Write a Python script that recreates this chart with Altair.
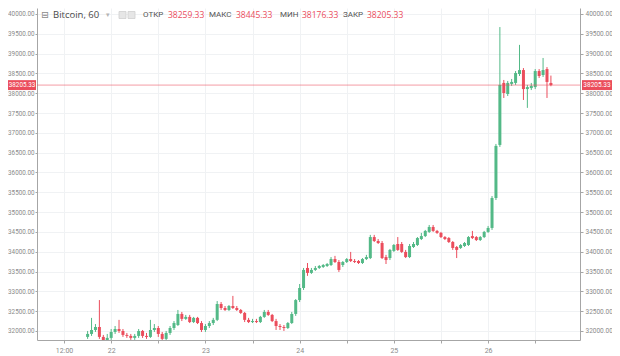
import altair as alt
import pandas as pd

# ---------------- data (hourly BTC candles) ----------------
first_bar = "2021-07-21 18:00"

opens = [31850, 31925, 32025, 32100, 31850, 31750, 31825, 31975, 32050, 32000,
         31900, 31875, 31825, 31875, 32000, 31875, 31850, 32025, 32075, 31925,
         31800, 31950, 32075, 32150, 32430, 32305, 32355, 32225, 32330, 32200,
         32025, 32125, 32200, 32280, 32680, 32580, 32530, 32630, 32580, 32530,
         32455, 32280, 32225, 32250, 32225, 32355, 32480, 32405, 32250, 32125,
         32100, 32075, 32200, 32430, 32780, 33085, 33590, 33465, 33540, 33590,
         33615, 33640, 33665, 33815, 33740, 33665, 33740, 33815, 33765, 33765,
         33715, 33815, 33840, 34370, 34270, 34220, 33865, 33840, 34020, 34195,
         34195, 33995, 33865, 34120, 34170, 34320, 34395, 34500, 34625, 34525,
         34475, 34370, 34345, 34245, 34120, 34095, 34145, 34170, 34395, 34370,
         34295, 34370, 34500, 34600, 35355, 36695, 38260, 37980, 38235, 38260,
         38485, 38585, 38105, 38130, 38155, 38560, 38460, 38610, 38259.33]

highs = [32000, 32330, 32175, 32780, 31900, 31925, 32050, 32125, 32280, 32050,
         31950, 31925, 31925, 32050, 32025, 31950, 32280, 32175, 32125, 31975,
         32000, 32125, 32250, 32530, 32480, 32405, 32405, 32355, 32355, 32250,
         32175, 32250, 32330, 32755, 32730, 32630, 32655, 32885, 32630, 32555,
         32480, 32330, 32305, 32305, 32380, 32530, 32530, 32430, 32305, 32175,
         32150, 32225, 32480, 32805, 33185, 33590, 33715, 33590, 33640, 33665,
         33690, 33715, 33865, 33895, 33790, 33765, 33840, 33995, 33815, 33790,
         33840, 33920, 34425, 34425, 34320, 34270, 33920, 34070, 34195, 34370,
         34245, 34045, 34195, 34245, 34370, 34475, 34550, 34675, 34675, 34550,
         34500, 34395, 34370, 34270, 34145, 34195, 34245, 34395, 34525, 34395,
         34395, 34525, 34650, 35405, 36720, 39670, 38335, 38310, 38360, 38560,
         39220, 38635, 38210, 38260, 38610, 38610, 38890, 38660, 38445.33]

lows = [31800, 31875, 31975, 31800, 31670, 31695, 31775, 31925, 31950, 31850,
        31825, 31775, 31775, 31825, 31825, 31800, 31825, 31975, 31850, 31750,
        31750, 31900, 32025, 32125, 32250, 32280, 32200, 32200, 32175, 31975,
        31975, 32075, 32150, 32250, 32530, 32505, 32505, 32555, 32505, 32430,
        32225, 32200, 32200, 32200, 32200, 32330, 32380, 32225, 32025, 32025,
        32000, 32050, 32175, 32380, 32730, 33035, 33390, 33440, 33515, 33565,
        33590, 33615, 33640, 33715, 33490, 33615, 33715, 33740, 33715, 33690,
        33690, 33790, 33815, 34245, 34195, 33815, 33690, 33790, 33995, 34020,
        33970, 33840, 33840, 34095, 34145, 34295, 34370, 34475, 34500, 34450,
        34345, 34295, 34220, 34045, 33840, 34070, 34120, 34145, 34320, 34270,
        34270, 34345, 34475, 34550, 35305, 36645, 37880, 37930, 38185, 38210,
        38435, 37830, 37630, 38080, 38105, 38385, 38410, 37880, 38176.33]

closes = [31925, 32025, 32100, 31850, 31750, 31825, 31975, 32050, 32000, 31900,
          31875, 31825, 31875, 32000, 31875, 31850, 32025, 32075, 31925, 31800,
          31950, 32075, 32200, 32430, 32305, 32355, 32225, 32330, 32200, 32025,
          32125, 32200, 32280, 32680, 32580, 32530, 32630, 32580, 32530, 32455,
          32280, 32225, 32250, 32225, 32355, 32480, 32405, 32250, 32125, 32100,
          32075, 32200, 32430, 32780, 33085, 33540, 33465, 33540, 33590, 33640,
          33665, 33690, 33815, 33740, 33540, 33740, 33815, 33765, 33740, 33715,
          33815, 33865, 34370, 34270, 34220, 33840, 33790, 34045, 34170, 34045,
          33995, 33865, 34145, 34195, 34345, 34395, 34525, 34625, 34525, 34475,
          34370, 34320, 34245, 34095, 34045, 34170, 34220, 34370, 34345, 34295,
          34370, 34500, 34600, 35355, 36670, 38210, 38005, 38260, 38285, 38510,
          38585, 38105, 38155, 38185, 38560, 38435, 38585, 38285, 38205.33]

y_ticks = list(range(32000, 40001, 500))
header_names = ["ОТКР", "МАКС", "МИН", "ЗАКР"]
symbol_title = "Bitcoin, 60"

# ---------------- helpers ----------------
def ms(s):
    return int(pd.Timestamp(s).value // 10**6)

times = pd.date_range(first_bar, periods=len(opens), freq="h").strftime("%Y-%m-%dT%H:%M:%SZ").tolist()
df = pd.DataFrame({"t": times, "open": opens, "high": highs, "low": lows, "close": closes})
df["dir"] = ["up" if c >= o else "down" for o, c in zip(opens, closes)]

last = pd.DataFrame({"price": [closes[-1]]})
header_values = ["%.2f" % v for v in (opens[-1], highs[-1], lows[-1], closes[-1])]

x_vals = [ms(t) for t in pd.date_range("2021-07-21 12:00", "2021-07-26 12:00", freq="12h")]

UP, DOWN = "#53b987", "#eb4d5c"
W, H = 543, 332

xscale = alt.Scale(type="utc", domain=[ms("2021-07-21 06:23"), ms("2021-07-26 22:08")], nice=False)
yscale = alt.Scale(domain=[31772, 40151], nice=False, zero=False)
cscale = alt.Scale(domain=["up", "down"], range=[UP, DOWN])

xaxis = alt.Axis(values=x_vals, title=None, grid=True, gridColor="#f0f2f4",
                 labelExpr="utchours(datum.value) == 12 ? (utcdate(datum.value) == 21 ? '12:00' : '') : utcFormat(datum.value, '%d')",
                 labelFont="Roboto", labelFontSize=7, labelColor="#8a8a8a",
                 domainColor="#a6a6a6", tickColor="#a6a6a6", tickSize=3, labelPadding=3)
X = alt.X("t:T", scale=xscale, axis=xaxis)

left_axis = alt.Axis(orient="left", values=y_ticks, format=".2f", title=None, grid=True,
                     gridColor="#f0f2f4", labelFont="Roboto", labelFontSize=6.3,
                     labelColor="#8a8a8a", domainColor="#a6a6a6", tickColor="#a6a6a6",
                     tickSize=2, labelPadding=1)
right_axis = alt.Axis(orient="right", values=y_ticks, format=".2f", title=None, grid=False,
                      labelFont="Roboto", labelFontSize=6.5, labelColor="#8a8a8a",
                      domainColor="#a6a6a6", tickColor="#a6a6a6", tickSize=3, labelPadding=2)

col = alt.Color("dir:N", scale=cscale, legend=None)

wicks = alt.Chart(df).mark_rule(strokeWidth=1, clip=True).encode(
    x=X, y=alt.Y("low:Q", scale=yscale, axis=left_axis), y2="high:Q", color=col)
bodies = alt.Chart(df).mark_bar(size=3, clip=True).encode(
    x=X, y=alt.Y("open:Q", scale=yscale, axis=None), y2="close:Q", color=col)

pline = alt.Chart(last).mark_rule(color=DOWN, strokeWidth=1, opacity=0.55).encode(
    y=alt.Y("price:Q", scale=yscale, axis=right_axis))

boxes_base = alt.Chart(last).transform_calculate(lo="datum.price - 125", hi="datum.price + 125")
box_l = boxes_base.mark_rect(color=DOWN).encode(
    y=alt.Y("lo:Q", scale=yscale, axis=None), y2="hi:Q", x=alt.value(-29), x2=alt.value(-1))
box_r = boxes_base.mark_rect(color=DOWN).encode(
    y=alt.Y("lo:Q", scale=yscale, axis=None), y2="hi:Q", x=alt.value(W + 2), x2=alt.value(W + 32))
txt_l = alt.Chart(last).mark_text(color="white", font="Roboto", fontSize=6.3, align="center", baseline="middle").encode(
    y=alt.Y("price:Q", scale=yscale, axis=None), x=alt.value(-15), text=alt.Text("price:Q", format=".2f"))
txt_r = alt.Chart(last).mark_text(color="white", font="Roboto", fontSize=6.5, align="center", baseline="middle").encode(
    y=alt.Y("price:Q", scale=yscale, axis=None), x=alt.value(W + 17), text=alt.Text("price:Q", format=".2f"))


def label(txt, x, color, size, font="Open Sans"):
    return alt.Chart(pd.DataFrame({"s": [txt]})).mark_text(
        align="left", baseline="middle", font=font, fontSize=size, color=color
    ).encode(x=alt.value(x), y=alt.value(7), text="s:N")


header = [
    label("⊟", 4, "#8a8a8a", 9.5, font="DejaVu Sans"),
    label(symbol_title, 16, "#4a4a4a", 9.5),
    label("▾", 69, "#b5b5b5", 7, font="DejaVu Sans"),
]
sq1 = alt.Chart(pd.DataFrame({"s": [0]})).mark_rect(fill="#e6e6e6", stroke="#cfcfcf", strokeWidth=0.8).encode(
    x=alt.value(82), x2=alt.value(89), y=alt.value(3.5), y2=alt.value(10.5))
sq2 = alt.Chart(pd.DataFrame({"s": [0]})).mark_rect(fill="#e6e6e6", stroke="#cfcfcf", strokeWidth=0.8).encode(
    x=alt.value(91), x2=alt.value(98), y=alt.value(3.5), y2=alt.value(10.5))
name_x = [106, 172, 243, 306]
val_x = [131, 199, 265, 330]
for n, v, nx, vx in zip(header_names, header_values, name_x, val_x):
    header.append(label(n, nx, "#555555", 8, font="Roboto"))
    header.append(label(v, vx, DOWN, 8.5))

chart = alt.layer(wicks, bodies, pline, box_l, box_r, txt_l, txt_r, sq1, sq2, *header).resolve_scale(
    y="shared").resolve_axis(y="independent").properties(
    width=W, height=H, autosize="none",
    padding={"left": 29, "top": 0, "right": 32, "bottom": 16},
    background="white",
).configure_view(stroke=None)

chart.save("out.html", embed_options={"renderer": "svg", "actions": False})
